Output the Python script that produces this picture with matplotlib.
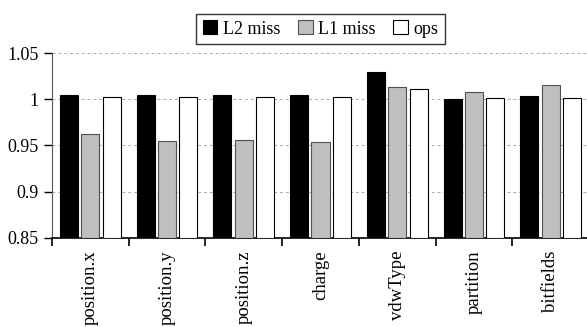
import matplotlib
matplotlib.use("Agg")
import matplotlib.pyplot as plt
import numpy as np
from matplotlib.ticker import FixedLocator

categories = ["position.x", "position.y", "position.z", "charge", "vdwType", "partition", "bitfields"]
l2_miss = [1.005, 1.005, 1.005, 1.005, 1.030, 1.000, 1.003]
l1_miss = [0.962, 0.955, 0.956, 0.954, 1.013, 1.008, 1.015]
ops = [1.002, 1.002, 1.002, 1.002, 1.011, 1.001, 1.001]
yticks = [0.85, 0.9, 0.95, 1.0, 1.05]
ytick_labels = ["0.85", "0.9", "0.95", "1", "1.05"]

plt.rcParams['font.family'] = ['Liberation Serif', 'DejaVu Serif']

fig = plt.figure(figsize=(5.87, 3.27), dpi=100)
ax = fig.add_axes([52/587, 1-238/327, 537/587, 185/327])

x = np.arange(len(categories))
w = 0.235
off = 0.278
ax.bar(x - off, [v - 0.85 for v in l2_miss], w, bottom=0.85, color="black", edgecolor="black", linewidth=0.8, label="L2 miss", zorder=3)
ax.bar(x, [v - 0.85 for v in l1_miss], w, bottom=0.85, color="#bfbfbf", edgecolor="#505050", linewidth=0.8, label="L1 miss", zorder=3)
ax.bar(x + off, [v - 0.85 for v in ops], w, bottom=0.85, color="white", edgecolor="black", linewidth=0.8, label="ops", zorder=3)

ax.set_ylim(0.85, 1.05)
ax.set_xlim(-0.5, len(categories) - 0.5)
ax.set_yticks(yticks)
ax.set_yticklabels(ytick_labels, fontsize=13)
ax.yaxis.grid(True, linestyle=(0, (3, 3)), color="#aaaaaa", linewidth=0.7, zorder=0)

ax.xaxis.set_major_locator(FixedLocator(list(np.arange(-0.5, len(categories), 1.0))))
ax.xaxis.set_major_formatter(plt.NullFormatter())
ax.set_xticks(x, minor=True)
ax.set_xticklabels(categories, minor=True, rotation=90, fontsize=13.5)
ax.tick_params(axis='x', which='minor', length=0, pad=9)
ax.tick_params(axis='x', which='major', length=6, width=1.2, direction='out')
ax.tick_params(axis='y', length=6, width=1, direction='out')

for s in ["top", "right"]:
    ax.spines[s].set_visible(False)
ax.spines["left"].set_color("#555555")
ax.spines["bottom"].set_linewidth(1.2)

leg = ax.legend(loc="lower center", bbox_to_anchor=(0.5, 1.0), ncol=3, fontsize=13,
                frameon=True, fancybox=False, edgecolor="black", handlelength=0.8,
                handleheight=0.8, handletextpad=0.3, columnspacing=1.0, borderpad=0.35)
leg.get_frame().set_linewidth(1.0)

fig.savefig("out.png", dpi=100)
